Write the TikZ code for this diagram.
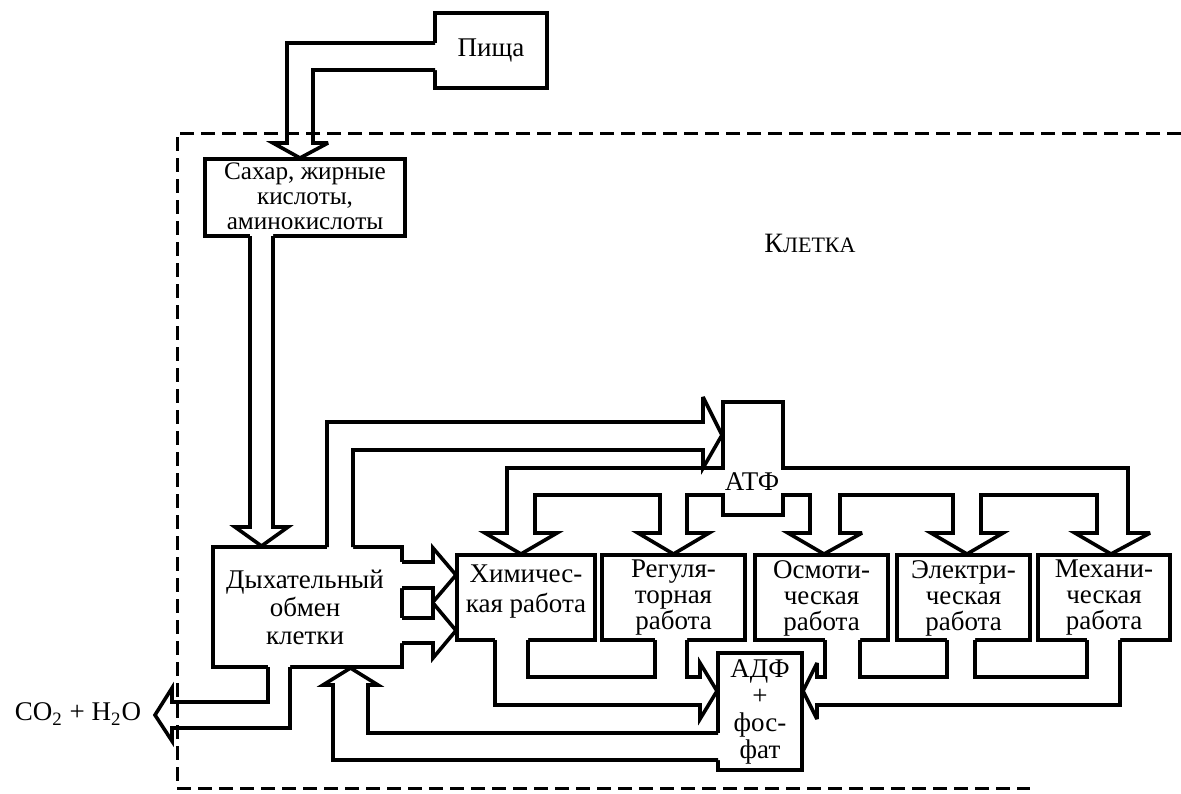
\documentclass[tikz,border=0pt]{standalone}
\usepackage{fontspec}
\setmainfont{Liberation Serif}
\begin{document}
\begin{tikzpicture}[x=0.5pt,y=-0.5pt,
  ln/.style={line width=1.8pt, line join=miter, miter limit=4},
  box/.style={draw, line width=1.8pt, inner sep=0pt},
  txt/.style={inner sep=0pt, align=center, font=\fontsize{13.5}{13}\selectfont},
  frame/.style={line width=1.5pt, dash pattern=on 7pt off 3.5pt}]
\useasboundingbox (0,0) rectangle (1181,793);

% ---------- boxes ----------
\node[box, minimum width=56pt, minimum height=37.5pt] (pisha) at (491,50.5) {};
\node[box, minimum width=100pt, minimum height=38.5pt] (sahar) at (305,197.5) {};
\node[box, minimum width=94.5pt, minimum height=60pt] (dyh) at (307.5,607) {};
\node[box, minimum width=69pt, minimum height=42.5pt] (him) at (526,597.5) {};
\node[box, minimum width=71.5pt, minimum height=42.5pt] (reg) at (673.5,597.5) {};
\node[box, minimum width=66.5pt, minimum height=42.5pt] (osm) at (821.5,597.5) {};
\node[box, minimum width=66.5pt, minimum height=42.5pt] (el) at (963.5,597.5) {};
\node[box, minimum width=66pt, minimum height=42.5pt] (meh) at (1104,597.5) {};
\node[box, minimum width=42pt, minimum height=58.5pt] (adf) at (760,711.5) {};

% ---------- white fills to open box borders ----------
\fill[white] (437,43) -- (287,43) -- (287,143) -- (273,143) -- (300,158) -- (328,143) -- (313,143) -- (313,70) -- (437,70) -- cycle;
\fill[white] (250,234) -- (250,527) -- (235,527) -- (261.5,546) -- (288,527) -- (273,527) -- (273,234) -- cycle;
\fill[white] (327,549) -- (327,422) -- (703,422) -- (703,397) -- (722,435) -- (703,468) -- (703,450) -- (353,450) -- (353,549) -- cycle;
\fill[white] (268,665) -- (268,702) -- (172,702) -- (172,688) -- (155,715) -- (172,741) -- (172,728) -- (290,728) -- (290,665) -- cycle;
\fill[white] (400,562) -- (433,562) -- (433,548) -- (456,575) -- (433,602) -- (433,588) -- (400,588) -- cycle;
\fill[white] (400,618) -- (433,618) -- (433,603) -- (456,630.5) -- (433,658) -- (433,643) -- (400,643) -- cycle;
\fill[white] (720,733) -- (368,733) -- (368,685) -- (378,685) -- (350.5,668) -- (323,685) -- (333,685) -- (333,760) -- (720,760) -- cycle;
\fill[white] (495,638) -- (495,705) -- (700,705) -- (700,719) -- (717,691) -- (700,663) -- (700,677) -- (687,677) -- (687,638) -- (655,638) -- (655,677) -- (528,677) -- (528,638) -- cycle;
\fill[white] (1120,638) -- (1120,705) -- (817,705) -- (817,719) -- (803,691) -- (817,663) -- (817,677) -- (825,677) -- (825,638) -- (860,638) -- (860,677) -- (947,677) -- (947,638) -- (975,638) -- (975,677) -- (1087,677) -- (1087,638) -- cycle;

% ---------- pipes ----------
% food -> sugars
\draw[ln] (435,43) -- (287,43) -- (287,143) -- (273,143) -- (300,158) -- (328,143) -- (313,143) -- (313,70) -- (435,70);
% sugars -> respiration
\draw[ln] (250,236) -- (250,527) -- (235,527) -- (261.5,546) -- (288,527) -- (273,527) -- (273,236);
% respiration -> ATP
\draw[ln] (327,547) -- (327,422) -- (703,422) -- (703,397) -- (722,435) -- (703,468) -- (703,450) -- (353,450) -- (353,547);
% CO2 + H2O out
\draw[ln] (268,667) -- (268,702) -- (172,702) -- (172,688) -- (155,715) -- (172,741) -- (172,728) -- (290,728) -- (290,667);
% respiration -> chemical work (two arrows)
\draw[ln] (402,562) -- (433,562) -- (433,548) -- (456,575) -- (433,602) -- (433,588) -- (402,588);
\draw[ln] (402,618) -- (433,618) -- (433,603) -- (456,630.5) -- (433,658) -- (433,643) -- (402,643);
% ADP -> respiration
\draw[ln] (718,733) -- (368,733) -- (368,685) -- (378,685) -- (350.5,668) -- (323,685) -- (333,685) -- (333,760) -- (718,760);
% ATP distribution
\draw[ln] (723,402) -- (783,402) -- (783,468) -- (1128,468) -- (1128,533) -- (1150,533) -- (1111,554) -- (1075,533) -- (1097,533) -- (1097,495)
  -- (981,495) -- (981,533) -- (1003,533) -- (967,554) -- (931,533) -- (953,533) -- (953,495)
  -- (840,495) -- (840,533) -- (862,533) -- (824,554) -- (788,533) -- (810,533) -- (810,495)
  -- (783,495) -- (783,515) -- (723,515) -- (723,495)
  -- (687,495) -- (687,533) -- (709,533) -- (673.5,554) -- (638,533) -- (660,533) -- (660,495)
  -- (535,495) -- (535,533) -- (557,533) -- (521,554) -- (485,533) -- (507,533) -- (507,468) -- (723,468) -- cycle;
% returns to ADP, left
\draw[ln] (495,640) -- (495,705) -- (700,705) -- (700,719) -- (717,691) -- (700,663) -- (700,677) -- (687,677) -- (687,640);
\draw[ln] (528,640) -- (528,677) -- (655,677) -- (655,640);
% returns to ADP, right
\draw[ln] (1120,640) -- (1120,705) -- (817,705) -- (817,719) -- (803,691) -- (817,663) -- (817,677) -- (825,677) -- (825,640);
\draw[ln] (860,640) -- (860,677) -- (947,677) -- (947,640);
\draw[ln] (975,640) -- (975,677) -- (1087,677) -- (1087,640);

% ---------- cell frame ----------
\draw[frame] (1181,133) -- (177,133) -- (177,788) -- (1030,788);

% ---------- texts ----------
\node[txt] (pishat) at (pisha.center) {Пища};
\node[txt, font=\fontsize{12.6}{12.6}\selectfont] (sahart) at (305,196) {Сахар, жирные\\кислоты,\\аминокислоты};
\node[txt, font=\fontsize{13.5}{14}\selectfont] (dyht) at (305,607) {Дыхательный\\обмен\\клетки};
\node[txt, font=\fontsize{13.5}{15}\selectfont] (himt) at (526,592) {Химичес-\\кая работа};
\node[txt] (regt) at (673.5,598) {Регуля-\\торная\\работа};
\node[txt] (osmt) at (821.5,598) {Осмоти-\\ческая\\работа};
\node[txt] (elt) at (963.5,598) {Электри-\\ческая\\работа};
\node[txt] (meht) at (1104,598) {Механи-\\ческая\\работа};
\node[txt, font=\fontsize{13.5}{13.5}\selectfont] (adft) at (760,712) {АДФ\\+\\фос-\\фат};
\node[txt] (atp) at (752,482) {АТФ};
\node[inner sep=0pt] (kletka) at (810,243) {{\fontsize{14}{14}\selectfont К}{\fontsize{11}{11}\selectfont ЛЕТКА}};
\node[txt] (co2) at (78,714) {CO\textsubscript{2} + H\textsubscript{2}O};
\end{tikzpicture}
\end{document}
